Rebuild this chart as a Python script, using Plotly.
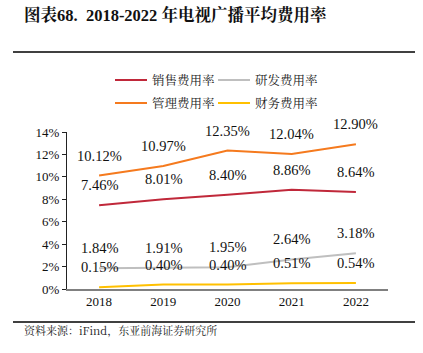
import plotly.graph_objects as go

years = ["2018", "2019", "2020", "2021", "2022"]
sales = [7.46, 8.01, 8.40, 8.86, 8.64]
rnd = [1.84, 1.91, 1.95, 2.64, 3.18]
mgmt = [10.12, 10.97, 12.35, 12.04, 12.90]
fin = [0.15, 0.40, 0.40, 0.51, 0.54]
names = ["销售费用率", "研发费用率", "管理费用率", "财务费用率"]
colors = ["#C0283A", "#BFBFBF", "#F57A1E", "#FFC000"]
yticks = [0, 2, 4, 6, 8, 10, 12, 14]

SERIF = "Times New Roman, Liberation Serif, Noto Serif CJK SC, Noto Sans CJK SC, serif"
CJK = "Noto Serif CJK SC, Noto Sans CJK SC, serif"

fig = go.Figure()
series = [sales, rnd, mgmt, fin]
for s, n, c in zip(series, names, colors):
    fig.add_trace(go.Scatter(x=years, y=s, mode="lines", name=n,
                             line=dict(color=c, width=2), showlegend=False))
    for i, yv in enumerate(s):
        fig.add_annotation(x=i, y=yv, text=f"{yv:.2f}%", showarrow=False,
                           yshift=20, font=dict(family=SERIF, size=14.5, color="#111"))

# manual legend
leg = [(0, 0, 0.0), (1, 1, 0.0), (2, 0, 1.0), (3, 1, 1.0)]
for i, col, row in leg:
    x0 = 115 + col * 103
    y = 80 + row * 23
    fig.add_shape(type="line", xref="paper", yref="paper",
                  x0=(x0 - 67) / 321, x1=(x0 + 32 - 67) / 321,
                  y0=(289 - y) / 157, y1=(289 - y) / 157,
                  line=dict(color=colors[i], width=2))
    fig.add_annotation(xref="paper", yref="paper", x=(x0 + 35 - 67) / 321,
                       y=(289 - y) / 157, text=names[i], showarrow=False,
                       xanchor="left", yanchor="middle",
                       font=dict(family=CJK, size=12.5, color="#222"))

# title
fig.add_annotation(xref="paper", yref="paper", x=(22 - 67) / 321, y=(289 - 15) / 157,
                   text="<b>图表68.  2018-2022 年电视广播平均费用率</b>", showarrow=False,
                   xanchor="left", yanchor="middle",
                   font=dict(family=SERIF, size=16.5, color="#111"))
fig.add_shape(type="line", xref="paper", yref="paper",
              x0=(13 - 67) / 321, x1=(415 - 67) / 321,
              y0=(289 - 52) / 157, y1=(289 - 52) / 157,
              line=dict(color="black", width=1.5))
# source
fig.add_shape(type="line", xref="paper", yref="paper",
              x0=(13 - 67) / 321, x1=(415 - 67) / 321,
              y0=(289 - 322) / 157, y1=(289 - 322) / 157,
              line=dict(color="black", width=1.5))
fig.add_annotation(xref="paper", yref="paper", x=(22 - 67) / 321, y=(289 - 330) / 157,
                   text="资料来源：iFind，东亚前海证券研究所", showarrow=False,
                   xanchor="left", yanchor="middle",
                   font=dict(family=CJK, size=11, color="#222"))

fig.update_layout(
    width=423, height=353,
    margin=dict(l=67, r=35, t=132, b=64),
    paper_bgcolor="white", plot_bgcolor="white",
    xaxis=dict(type="category", range=[-0.5, 4.5], showgrid=False,
               showline=True, linecolor="#808080", linewidth=1.5, ticks="",
               tickfont=dict(family=SERIF, size=13, color="#111")),
    yaxis=dict(range=[0, 14], tickvals=yticks,
               ticktext=[f"{v}%" for v in yticks], showgrid=False,
               showline=True, linecolor="#222", linewidth=1, ticks="outside",
               ticklen=4, tickcolor="#222", zeroline=False,
               tickfont=dict(family=SERIF, size=13, color="#111")),
)
fig.write_html("out.html")
